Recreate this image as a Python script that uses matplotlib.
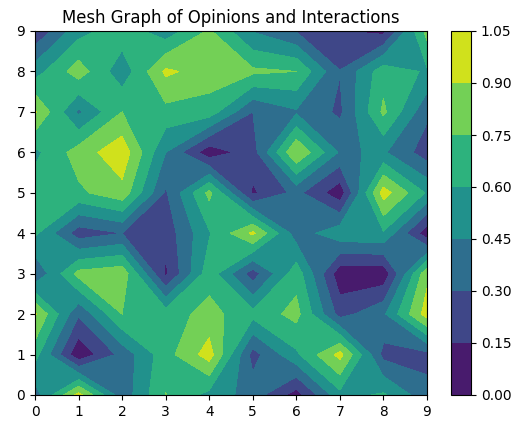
import numpy as np
import matplotlib
matplotlib.use("Agg")
import matplotlib.pyplot as plt

plt.rcParams["font.size"] = 9.9

x_vals = list(range(10))
y_vals = list(range(10))
levels = [0.0, 0.15, 0.30, 0.45, 0.60, 0.75, 0.90, 1.05]

row_y0 = [.37, .95, .35, .755, .55, .38, .08, .55, .62, .35]
row_y1 = [.66, .03, .35, .69, .97, .24, .57, .95, .25, .25]
row_y2 = [.92, .32, .75, .68, .80, .65, .80, .24, .42, .97]
row_y3 = [.31, .80, .85, .12, .69, .22, .69, .05, .04, .86]
row_y4 = [.63, .22, .30, .21, .585, .93, .37, .55, .58, .05]
row_y5 = [.68, .72, .85, .28, .79, .125, .344, .05, .97, .58]
row_y6 = [.56, .82, 1.0, .45, .05, .23, .90, .43, .47, .22]
row_y7 = [.92, .42, .75, .70, .68, .30, .43, .27, .78, .33]
row_y8 = [.53, .83, .50, .93, .83, .78, .75, .305, .69, .58]
row_y9 = [.17, .54, .69, .51, .77, .44, .29, .155, .10, .80]

Z = np.array([row_y0, row_y1, row_y2, row_y3, row_y4,
              row_y5, row_y6, row_y7, row_y8, row_y9])

W, H = 515, 421
fig = plt.figure(figsize=(W / 100, H / 100), dpi=100)
ax = fig.add_axes([35 / W, 1 - 395 / H, 392 / W, 364 / H])
cs = ax.contourf(x_vals, y_vals, Z, levels=levels, cmap="viridis")
ax.set_title("Mesh Graph of Opinions and Interactions")
cax = fig.add_axes([451 / W, 1 - 395 / H, 20 / W, 364 / H])
cb = fig.colorbar(cs, cax=cax)
fig.savefig("out.png", dpi=100)
